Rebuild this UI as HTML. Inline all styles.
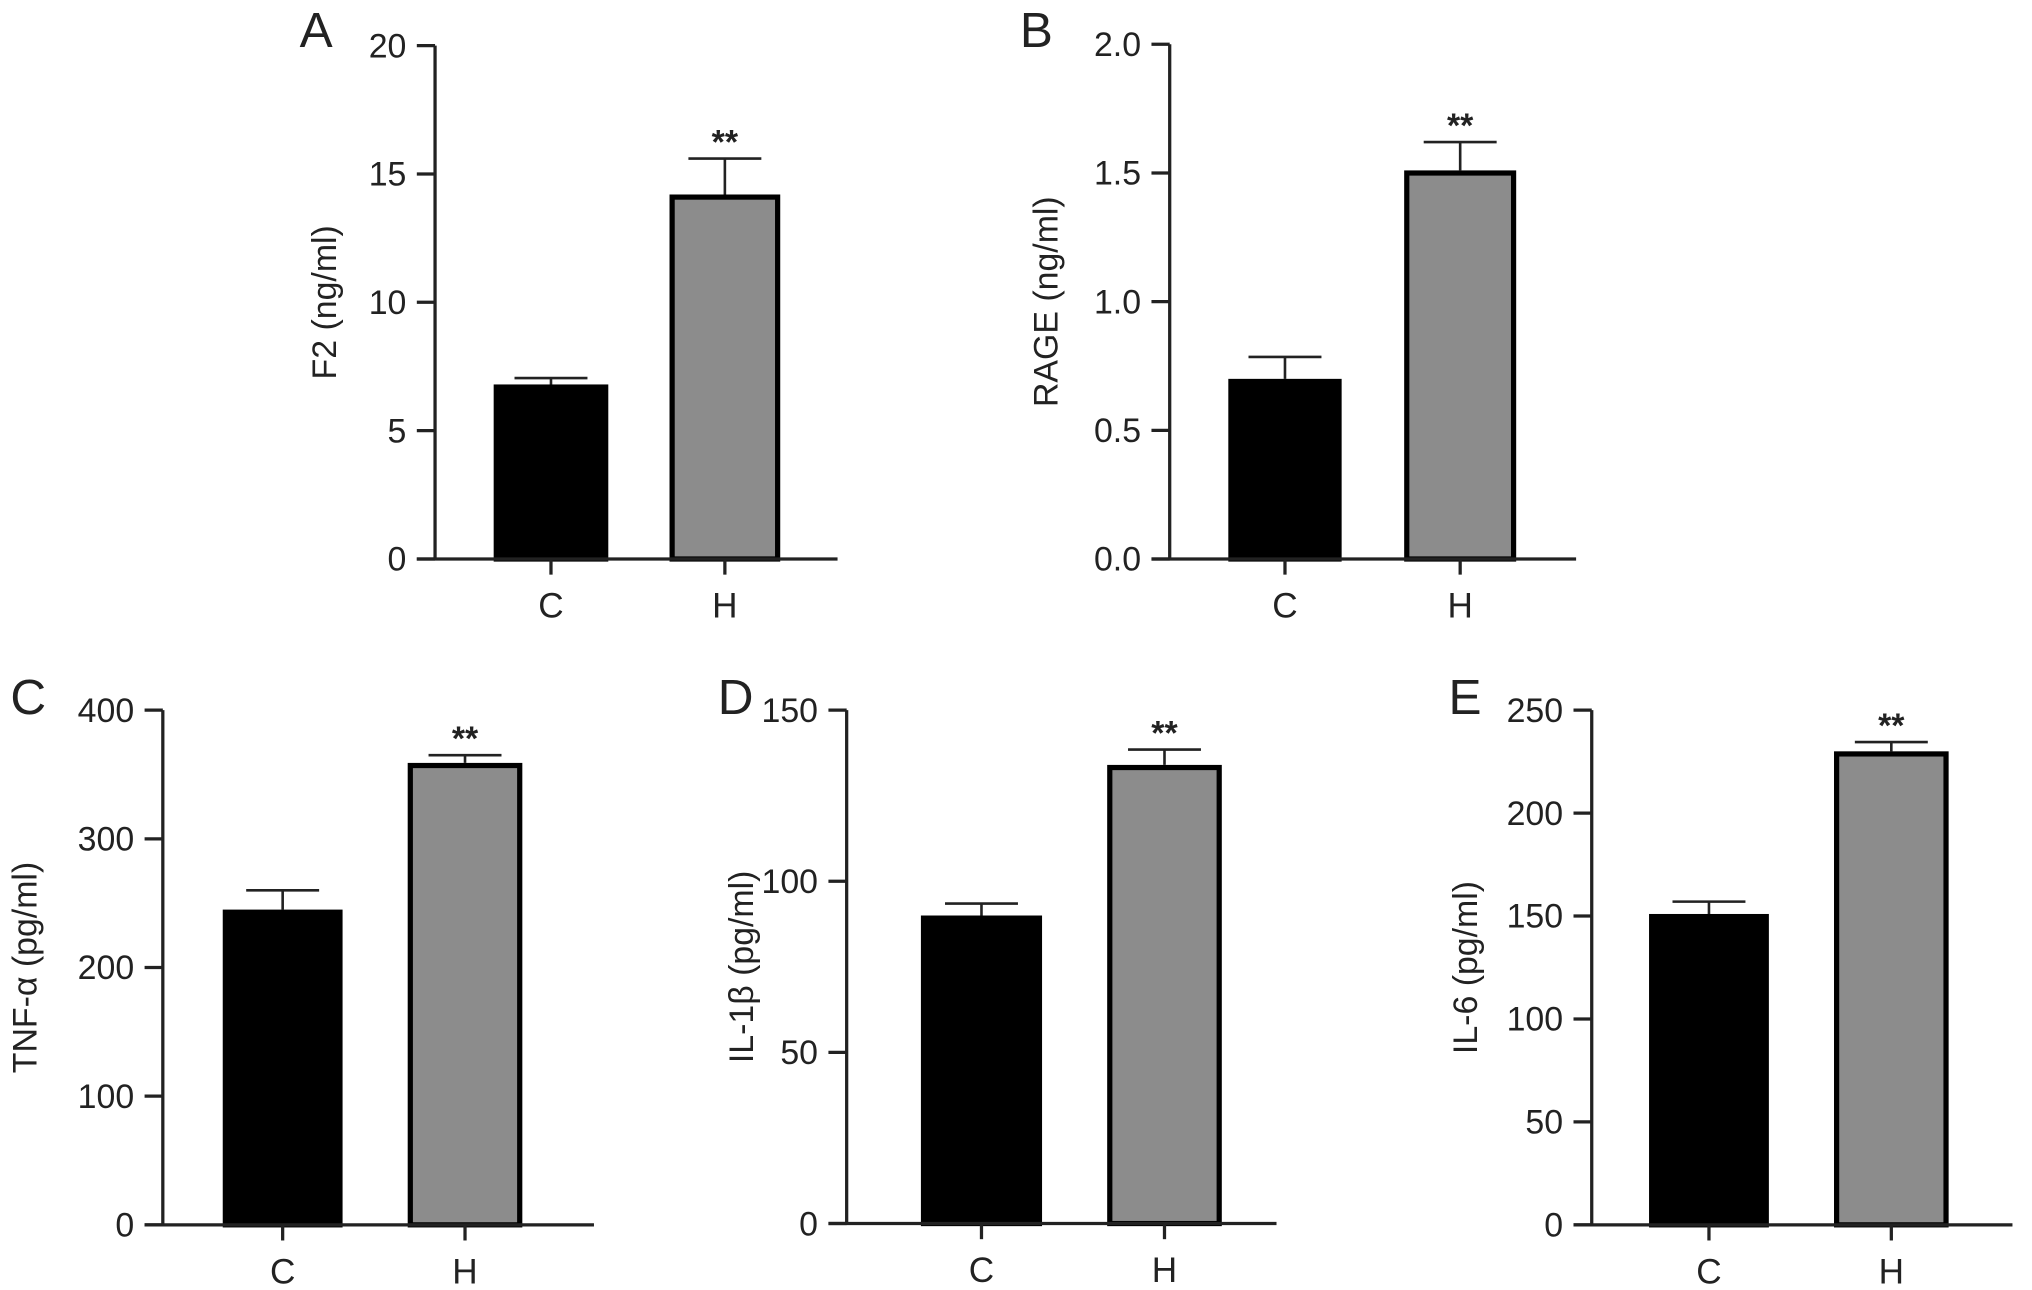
<!DOCTYPE html>
<html><head><meta charset="utf-8"><style>
html,body{margin:0;padding:0;background:#fff;}
svg{display:block;}
text{font-family:"Liberation Sans",Arial,sans-serif;fill:#222;}
</style></head><body>
<svg id="fig" width="2032" height="1290" viewBox="0 0 1560 990" preserveAspectRatio="none" xmlns="http://www.w3.org/2000/svg"></svg>
<script>
const categories = ["C", "H"];
const panelLetters = ["A", "B", "C", "D", "E"];
const yTitles = ["F2 (ng/ml)", "RAGE (ng/ml)", "TNF-\u03b1 (pg/ml)", "IL-1\u03b2 (pg/ml)", "IL-6 (pg/ml)"];
const yMaxes = [20, 2.0, 400, 150, 250];
const tickStep = [5, 0.5, 100, 50, 50];
const tickDecimals = [0, 1, 0, 0, 0];
const meanA = [6.8, 14.2];
const errA = [7.05, 15.6];
const meanB = [0.70, 1.51];
const errB = [0.785, 1.62];
const meanC = [245, 359];
const errC = [260, 365];
const meanD = [90, 134];
const errD = [93.5, 138.5];
const meanE = [151, 230];
const errE = [157, 234.5];
const sigLabels = ["", "**"];

const means = [meanA, meanB, meanC, meanD, meanE];
const errs = [errA, errB, errC, errD, errE];

// layout (not data)
const layout = [
  {ax:334, top:35, bot:429, xEnd:643, bars:[[379,467],[514,599]], letter:[230,36], titleX:258},
  {ax:898, top:34, bot:429, xEnd:1210, bars:[[943,1030],[1078,1164]], letter:[783,36], titleX:812},
  {ax:125, top:545, bot:940, xEnd:456, bars:[[171,263],[313,401]], letter:[8,548], titleX:28},
  {ax:650, top:545, bot:939, xEnd:980, bars:[[707,800],[850,938]], letter:[551,548], titleX:578},
  {ax:1222, top:545, bot:940, xEnd:1545, bars:[[1266,1358],[1408,1496]], letter:[1112,548], titleX:1134}
];
const NS = "http://www.w3.org/2000/svg";
const svg = document.getElementById("fig");
function mk(tag, attrs, parent){const e=document.createElementNS(NS,tag);for(const k in attrs)e.setAttribute(k,attrs[k]);(parent||svg).appendChild(e);return e;}

layout.forEach((L, p) => {
  const g = mk("g", {});
  
  
  const y = v => L.bot - (v / yMaxes[p]) * (L.bot - L.top);
  const lt = mk("text", {x:L.letter[0], y:L.letter[1], "font-size":38}, g);
  lt.textContent = panelLetters[p];
  
  
  means[p].forEach((m, i) => {
    const [x0, x1] = L.bars[i];
    const cx = (x0 + x1) / 2;
    const ey = y(errs[p][i]);
    const eb = mk("path", {d:`M${cx} ${y(m)}V${ey}M${cx-28} ${ey}H${cx+28}`, stroke:"#222", "stroke-width":2, fill:"none"}, g);
    
    
    const r = mk("rect", {x:x0+2, y:y(m)+2, width:x1-x0-4, height:L.bot-y(m)-2,
      fill: i===0 ? "#000" : "#8c8c8c", stroke:"#000", "stroke-width":4}, g);
    
    
    if (sigLabels[i]) {
      const s = mk("text", {x:cx, y:ey-4, "font-size":26, "font-weight":"bold", "text-anchor":"middle", fill:"#555"}, g);
      s.textContent = sigLabels[i];
      
      
    }
    const tk = mk("line", {x1:cx, x2:cx, y1:L.bot, y2:L.bot+12, stroke:"#222", "stroke-width":2.5}, g);
    
    
    const cl = mk("text", {x:cx, y:L.bot+45, "font-size":27, "text-anchor":"middle"}, g);
    cl.textContent = categories[i];
    
    
  });
  const yAx = mk("line", {x1:L.ax, x2:L.ax, y1:L.top, y2:L.bot, stroke:"#222", "stroke-width":2.5}, g);
  
  
  const xAx = mk("line", {x1:L.ax-14, x2:L.xEnd, y1:L.bot, y2:L.bot, stroke:"#222", "stroke-width":2.5}, g);
  
  
  const nT = Math.round(yMaxes[p] / tickStep[p]);
  for (let k = 0; k <= nT; k++) {
    const v = k * tickStep[p];
    const ty = y(v);
    const t = mk("line", {x1:L.ax-14, x2:L.ax, y1:ty, y2:ty, stroke:"#222", "stroke-width":2.5}, g);
    
    
    const tl = mk("text", {x:L.ax-22, y:ty+9, "font-size":26, "text-anchor":"end"}, g);
    tl.textContent = v.toFixed(tickDecimals[p]);
    
    
  }
  const cy = (L.top + L.bot) / 2;
  const yt = mk("text", {x:L.titleX, y:cy, "font-size":26, "text-anchor":"middle", transform:`rotate(-90 ${L.titleX} ${cy})`}, g);
  yt.textContent = yTitles[p];
  
  
});
</script>
</body></html>
